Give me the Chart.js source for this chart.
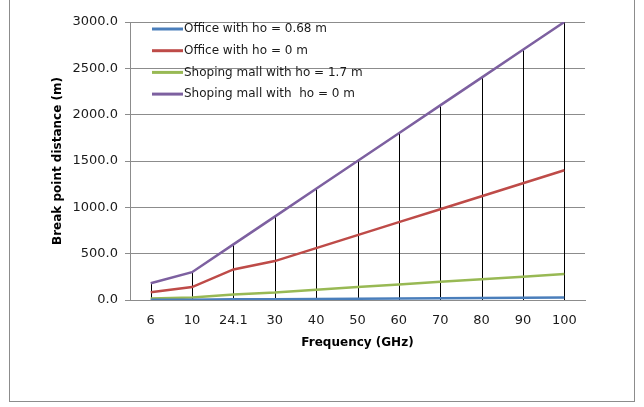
<!DOCTYPE html>
<html lang="en">

<head>
    <meta charset="UTF-8">
    <title>Break point distance vs frequency</title>
    <script src="https://cdn.jsdelivr.net/npm/chart.js"></script>
    <style>
        html, body { margin: 0; padding: 0; background: #fff; }
        .frame {
            position: absolute; left: 9px; top: -2px; width: 626px; height: 404px;
            border: 1.5px solid #8c8c8c; box-sizing: border-box;
        }
        .chart-box { position: absolute; left: 0; top: 0; width: 644px; height: 407px; }
    </style>
</head>

<body>
    <div class="frame"></div>
    <div class="chart-box">
        <canvas id="breakPointChart" width="644" height="407"></canvas>
    </div>

    <script>
        // Frequencies (GHz) on the category axis
        const frequencies = ['6', '10', '24.1', '30', '40', '50', '60', '70', '80', '90', '100'];

        // Break point distance (m) for each scenario
        const officeHo068 = [2, 3, 7, 8, 11, 14, 17, 20, 22, 25, 28];
        const officeHo0 = [84, 140, 330, 420, 560, 700, 840, 980, 1120, 1260, 1400];
        const mallHo17 = [17, 28, 60, 80, 110, 140, 168, 196, 224, 252, 280];
        const mallHo0 = [180, 300, 600, 900, 1200, 1500, 1800, 2100, 2400, 2700, 3000];

        const seriesNames = ['Office with ho = 0.68 m', 'Office with ho = 0 m',
            'Shoping mall with ho = 1.7 m', 'Shoping mall with  ho = 0 m'];
        const seriesColors = ['#4a7ebb', '#be4b48', '#98b954', '#7d60a0'];

        const yTicks = { min: 0, max: 3000, step: 500 };

        const fontFamily = '"DejaVu Sans", sans-serif';

        // Excel-style drop lines from the top series down to the axis
        const dropLines = {
            id: 'dropLines',
            beforeDatasetsDraw(chart) {
                const ctx = chart.ctx;
                const y0 = chart.scales.y.getPixelForValue(0);
                const pts = chart.getDatasetMeta(3).data;
                ctx.save();
                ctx.strokeStyle = '#000';
                ctx.lineWidth = 1;
                pts.forEach(p => {
                    const x = Math.round(p.x) + 0.5;
                    ctx.beginPath();
                    ctx.moveTo(x, p.y);
                    ctx.lineTo(x, y0);
                    ctx.stroke();
                });
                ctx.restore();
            }
        };

        // legend inside the plot + axis titles
        const extras = {
            id: 'extras',
            afterDraw(chart) {
                const ctx = chart.ctx;
                const area = chart.chartArea;
                ctx.save();
                ctx.font = '12px ' + fontFamily;
                ctx.textBaseline = 'middle';
                ctx.textAlign = 'left';
                chart.data.datasets.forEach((ds, i) => {
                    const y = 29 + i * 21.7;
                    ctx.strokeStyle = ds.borderColor;
                    ctx.lineWidth = 3;
                    ctx.beginPath();
                    ctx.moveTo(152, y);
                    ctx.lineTo(183, y);
                    ctx.stroke();
                    ctx.fillStyle = '#1a1a1a';
                    ctx.fillText(ds.label, 184, y);
                });

                ctx.fillStyle = '#000';
                ctx.font = 'bold 12px ' + fontFamily;
                ctx.textAlign = 'center';
                ctx.fillText('Frequency (GHz)', (area.left + area.right) / 2, 343);

                ctx.translate(58, (area.top + area.bottom) / 2);
                ctx.rotate(-Math.PI / 2);
                ctx.fillText('Break point distance (m)', 0, 0);
                ctx.restore();
            }
        };

        const ctx = document.getElementById('breakPointChart').getContext('2d');
        new Chart(ctx, {
            type: 'line',
            data: {
                labels: frequencies,
                datasets: [officeHo068, officeHo0, mallHo17, mallHo0].map((vals, i) => ({
                    label: seriesNames[i],
                    data: vals,
                    borderColor: seriesColors[i],
                    backgroundColor: seriesColors[i],
                    borderWidth: 2.5,
                    pointRadius: 0,
                    tension: 0,
                    fill: false
                }))
            },
            options: {
                responsive: false,
                animation: false,
                layout: { autoPadding: false, padding: { left: 0, top: 22, right: 59, bottom: 67 } },
                plugins: { legend: { display: false }, tooltip: { enabled: false } },
                scales: {
                    x: {
                        offset: true,
                        grid: { display: false, drawTicks: false },
                        border: { display: true, color: '#8c8c8c' },
                        ticks: { color: '#1a1a1a', padding: 13, font: { family: fontFamily, size: 13 } },
                        afterFit: s => { s.height = 40; }
                    },
                    y: {
                        min: yTicks.min,
                        max: yTicks.max,
                        grid: { color: '#8c8c8c', tickLength: 5, tickColor: '#8c8c8c' },
                        border: { display: true, color: '#8c8c8c' },
                        ticks: {
                            stepSize: yTicks.step,
                            padding: 7,
                            color: '#1a1a1a',
                            font: { family: fontFamily, size: 13 },
                            callback: v => v.toFixed(1)
                        },
                        afterFit: s => { s.width = 130; }
                    }
                }
            },
            plugins: [dropLines, extras]
        });
    </script>
</body>

</html>
